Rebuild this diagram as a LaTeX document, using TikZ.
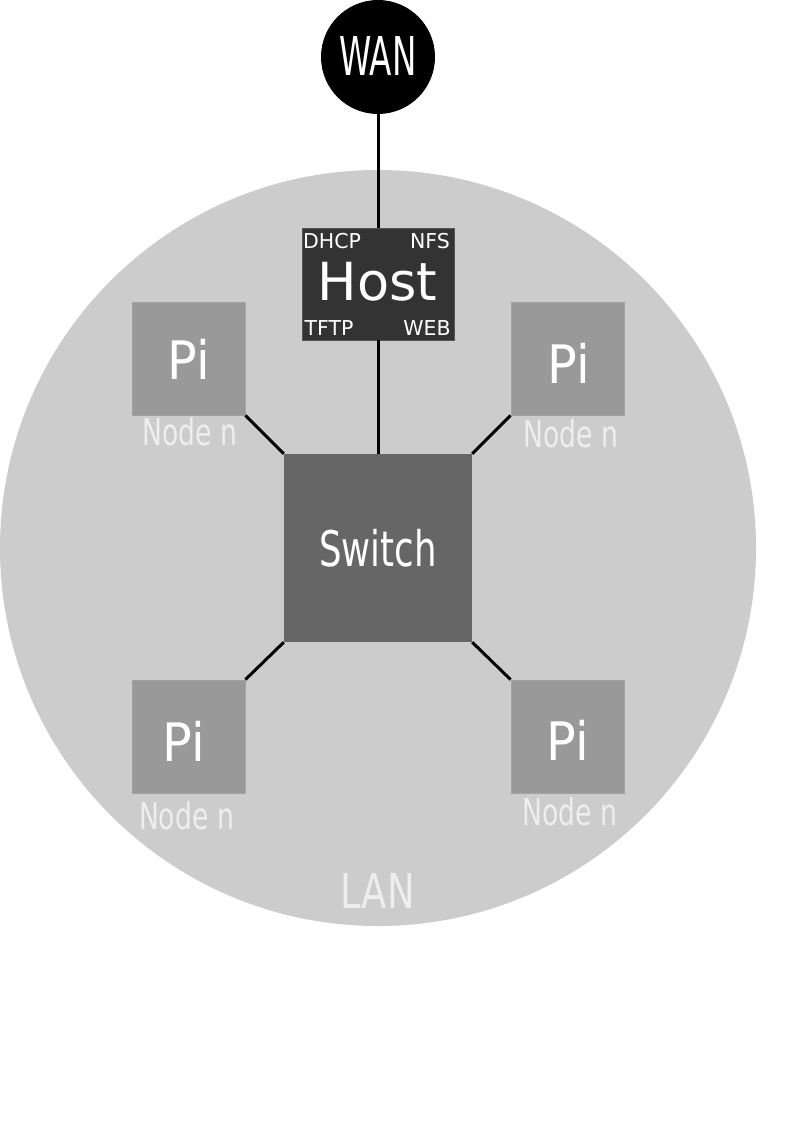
\documentclass[tikz,border=0pt]{standalone}
\usepackage{fontspec}
\setmainfont{DejaVu Sans}
\usepackage{graphicx}
\definecolor{lanfill}{HTML}{CCCCCC}
\definecolor{pifill}{HTML}{999999}
\definecolor{pidraw}{HTML}{A3A3A3}
\definecolor{swfill}{HTML}{666666}
\definecolor{hostfill}{HTML}{333333}
\definecolor{hostdraw}{HTML}{555555}
\definecolor{softwhite}{HTML}{EEEEEE}
\newcommand{\txtsz}[3]{\fontsize{#1}{#1}\selectfont\scalebox{#2}[1]{#3}}
\begin{document}
\begin{tikzpicture}[x=1pt,y=-1pt,
  lbl/.style={anchor=base,inner sep=0pt,outer sep=0pt},
  pibox/.style={rectangle,fill=pifill,draw=pidraw,line width=0.8pt,minimum width=113pt,minimum height=113pt,inner sep=0pt},
  link/.style={draw=black,line width=3pt}]
\useasboundingbox (0,0) rectangle (794,1123);
\fill[white] (0,0) rectangle (794,1123);
% LAN area
\node[circle,fill=lanfill,minimum size=756pt,inner sep=0pt] (lan) at (378,548) {};
% WAN
\node[circle,fill=black,minimum size=114pt,inner sep=0pt] (wan) at (378,57) {};
% Host
\node[rectangle,fill=hostfill,draw=hostdraw,line width=0.8pt,minimum width=152pt,minimum height=112pt,inner sep=0pt] (host) at (378,284) {};
% Switch
\node[rectangle,fill=swfill,minimum width=188pt,minimum height=188pt,inner sep=0pt] (sw) at (378,548) {};
% Pi boxes
\node[pibox] (pitl) at (188.5,358.5) {};
\node[pibox] (pitr) at (567.5,358.5) {};
\node[pibox] (pibl) at (188.5,736.5) {};
\node[pibox] (pibr) at (567.5,736.5) {};
% connectors
\draw[link] (wan.south) -- (host.north);
\draw[link] (host.south) -- (sw.north);
\draw[link] (pitl.south east) -- (sw.north west);
\draw[link] (pitr.south west) -- (sw.north east);
\draw[link] (pibl.north east) -- (sw.south west);
\draw[link] (pibr.north west) -- (sw.south east);
% texts
\node[lbl,text=white] (wantxt) at (378,76) {\txtsz{53.5}{0.61}{WAN}};
\node[lbl,text=white] (hosttxt) at (377.5,300) {\txtsz{52.5}{1.0}{Host}};
\node[lbl,text=white] (dhcp) at (332,248) {\txtsz{20.5}{1.0}{DHCP}};
\node[lbl,text=white] (nfs) at (430,248) {\txtsz{20.5}{1.0}{NFS}};
\node[lbl,text=white] (tftp) at (329,335) {\txtsz{20.5}{1.0}{TFTP}};
\node[lbl,text=white] (web) at (427,335) {\txtsz{20.5}{1.0}{WEB}};
\node[lbl,text=white] (swtxt) at (378,566.7) {\txtsz{49}{0.725}{Switch}};
\node[lbl,text=white] (pitltxt) at (188.5,379.3) {\txtsz{53}{0.93}{Pi}};
\node[lbl,text=white] (pitrtxt) at (568.5,383) {\txtsz{53}{0.93}{Pi}};
\node[lbl,text=white] (pibltxt) at (184,761.7) {\txtsz{53}{0.93}{Pi}};
\node[lbl,text=white] (pibrtxt) at (568,760) {\txtsz{53}{0.93}{Pi}};
\node[lbl,text=softwhite] (ntl) at (190,445) {\txtsz{37}{0.72}{Node n}};
\node[lbl,text=softwhite] (ntr) at (571,447) {\txtsz{37}{0.72}{Node n}};
\node[lbl,text=softwhite] (nbl) at (186.5,829) {\txtsz{37}{0.72}{Node n}};
\node[lbl,text=softwhite] (nbr) at (570,825) {\txtsz{37}{0.72}{Node n}};
\node[lbl,text=softwhite] (lantxt) at (377.5,908) {\txtsz{48}{0.77}{LAN}};
\end{tikzpicture}
\end{document}
